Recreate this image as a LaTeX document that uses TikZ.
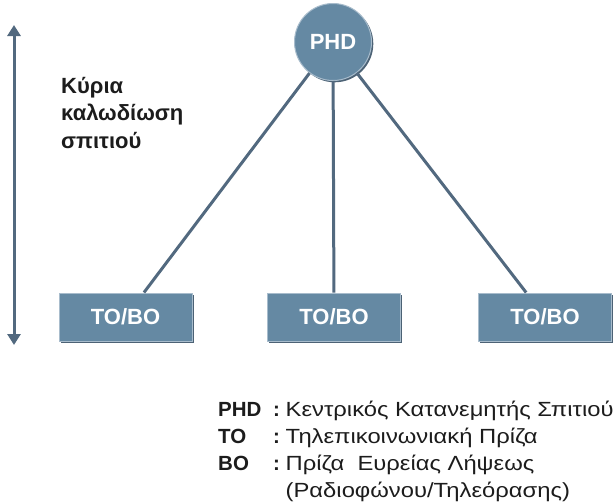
\documentclass[tikz,border=0pt]{standalone}
\usepackage{fontspec}
\usepackage{array}
\setmainfont{Liberation Sans}
\newfontfamily\legendfont[FakeStretch=1.16]{Liberation Sans}
\usetikzlibrary{arrows.meta,positioning,shadows}
\definecolor{phdBlue}{RGB}{101,137,163}
\definecolor{phdDark}{RGB}{76,98,117}
\definecolor{phdLight}{RGB}{168,188,204}
\definecolor{wireCol}{RGB}{82,105,127}
\definecolor{legendText}{RGB}{28,28,28}
\tikzset{
    hub/.style={circle, fill=phdBlue, draw=phdLight, line width=1pt, minimum size=77pt, inner sep=0pt,
                text=white, font=\fontsize{22}{26}\selectfont\bfseries,
                general shadow={shadow xshift=1.8pt, shadow yshift=-1.8pt, fill=phdDark}},
    outlet/.style={rectangle, fill=phdBlue, draw=phdLight, line width=1pt, minimum width=133pt, minimum height=48pt,
                text=white, font=\fontsize{22}{26}\selectfont\bfseries,
                general shadow={shadow xshift=1.8pt, shadow yshift=-1.8pt, fill=phdDark}},
    wire/.style={draw=wireCol, line width=3pt},
    span/.style={draw=wireCol, line width=3pt, {Triangle[width=13pt,length=11pt]}-{Triangle[width=13pt,length=11pt]}},
    sidelabel/.style={font=\fontsize{22}{27.5}\selectfont\bfseries, text=legendText, inner sep=0pt, anchor=base west},
    legend/.style={font=\fontsize{20.5}{27}\selectfont, text=legendText, inner sep=0pt, anchor=base west},
}

\begin{document}
\begin{tikzpicture}[x=1pt, y=-1pt]
    \useasboundingbox (0,0) rectangle (616,501);

    % Distributor and outlets
    \node[hub] (phd) at (333,42) {PHD};
    \node[outlet] (tob1) at (125.5,317) {TO/BO};
    \node[outlet] (tob2) at (334,317) {TO/BO};
    \node[outlet] (tob3) at (545,317) {TO/BO};

    % Home wiring
    \draw[wire] (phd) -- (tob1);
    \draw[wire] (phd) -- (tob2);
    \draw[wire] (phd) -- (tob3);

    % Height arrow and its label
    \coordinate (arrTop) at (14,25);
    \coordinate (arrBot) at (14,345);
    \draw[span] (arrBot) -- (arrTop);
    \node[sidelabel] (mainwire) at (61,93)
        {\begin{tabular}[t]{@{}l@{}}Κύρια\\καλωδίωση\\σπιτιού\end{tabular}};

    % Legend
    \node[legend] (key) at (218,416)
        {\begin{tabular}[t]{@{}>{\bfseries}l@{\hspace{11.7pt}}>{\bfseries}l@{\hspace{5.7pt}}>{\legendfont}l@{}}
            PHD & : & Κεντρικός Κατανεμητής Σπιτιού\\
            TO  & : & Τηλεπικοινωνιακή Πρίζα\\
            BO  & : & Πρίζα\ \ Ευρείας Λήψεως\\
                &   & (Ραδιοφώνου/Τηλεόρασης)
        \end{tabular}};
\end{tikzpicture}
\end{document}
